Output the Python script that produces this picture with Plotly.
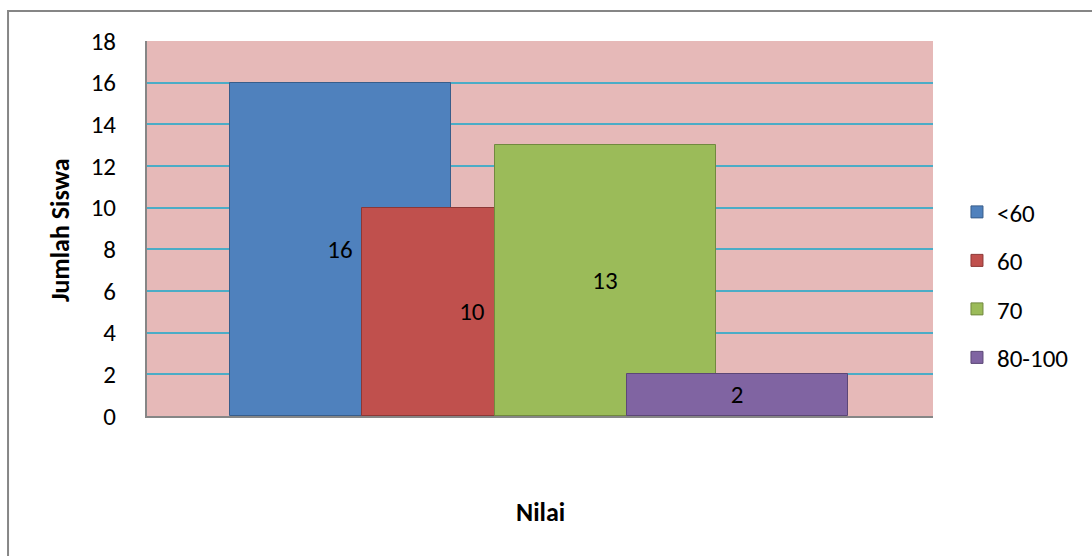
import plotly.graph_objects as go

categories = ["<60", "60", "70", "80-100"]
values = [16, 10, 13, 2]
colors = ["#4F81BD", "#C0504D", "#9BBB59", "#8064A2"]
edges = ["#385D8A", "#8C3836", "#71893F", "#5C4776"]
y_ticks = [0, 2, 4, 6, 8, 10, 12, 14, 16, 18]

START = 0.1056
STEP = 0.1683
WIDTH = 0.2812
FONT = "Calibri, Carlito, Lato, sans-serif"

fig = go.Figure()
for i, (cat, val) in enumerate(zip(categories, values)):
    fig.add_trace(go.Bar(
        x=[0], y=[val], name=cat,
        width=[WIDTH], offset=START + i * STEP,
        marker=dict(color=colors[i], line=dict(color=edges[i], width=1)),
        text=[str(val)], textposition="inside", insidetextanchor="middle",
        textangle=0, constraintext="none",
        textfont=dict(color="black", size=25, family=FONT),
        legendgroup=cat,
    ))

fig.update_layout(
    width=1092, height=556, autosize=False,
    margin=dict(l=147, r=159, t=41, b=140),
    paper_bgcolor="white", plot_bgcolor="#E6B9B8",
    barmode="overlay", bargap=0,
    font=dict(family=FONT, size=25, color="black"),
    showlegend=True,
    legend=dict(x=1.0305, y=0.605, xanchor="left", yanchor="top",
                font=dict(size=25, family=FONT), tracegroupgap=13,
                bgcolor="rgba(0,0,0,0)"),
    xaxis=dict(range=[0, 1], showticklabels=False, showgrid=False, zeroline=False,
               showline=True, linecolor="#868686", linewidth=2, ticks=""),
    yaxis=dict(range=[0, 18], tickvals=y_ticks, showgrid=True, gridcolor="#4BACC6",
               gridwidth=2, zeroline=False, showline=True, linecolor="#868686",
               linewidth=2, ticks="", ticklabelstandoff=24,
               tickfont=dict(size=25, family=FONT)),
    annotations=[
        dict(text="<b>Jumlah Siswa</b>", xref="paper", yref="paper", x=-0.1107, y=0.496,
             xanchor="center", yanchor="middle",
             textangle=-90, showarrow=False, font=dict(size=26, family=FONT)),
        dict(text="<b>Nilai</b>", xref="paper", yref="paper", x=0.5, y=-0.256,
             xanchor="center", yanchor="middle",
             showarrow=False, font=dict(size=26, family=FONT)),
    ],
    shapes=[dict(type="rect", xref="paper", yref="paper", x0=-0.1768, y0=-0.6,
                 x1=1.4, y1=1.08, line=dict(color="#868686", width=2), layer="below")],
)

fig.write_html("out.html")
